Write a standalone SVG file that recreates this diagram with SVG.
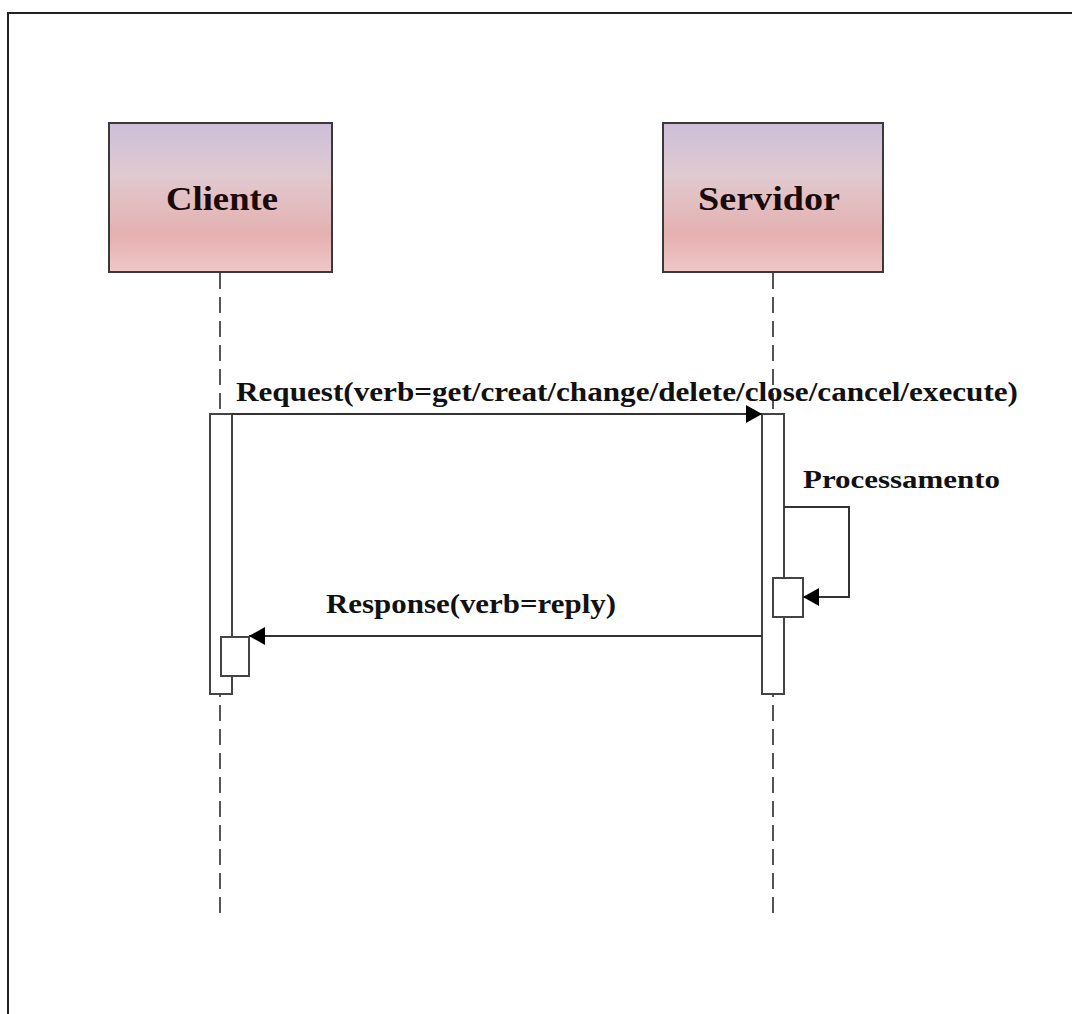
<svg xmlns="http://www.w3.org/2000/svg" width="1072" height="1014" viewBox="0 0 1072 1014">
  <defs>
    <linearGradient id="actorFill" x1="0" y1="0" x2="0" y2="1">
      <stop offset="0" stop-color="#cdbfd9"/>
      <stop offset="0.35" stop-color="#e0cad0"/>
      <stop offset="0.75" stop-color="#e5b0b0"/>
      <stop offset="1" stop-color="#efc8c8"/>
    </linearGradient>
    <marker id="arrowHead" markerWidth="16" markerHeight="18" refX="16" refY="9" orient="auto" markerUnits="userSpaceOnUse">
      <path d="M0,0 L16,9 L0,18 Z" fill="#000"/>
    </marker>
    <style>
      .actor { fill: url(#actorFill); stroke: #3a3a3a; stroke-width: 2; }
      .actor-label { font-family: "Liberation Serif", "Times New Roman", serif; font-weight: bold; font-size: 34px; fill: #1a0a0a; text-anchor: middle; }
      .lifeline { stroke: #555; stroke-width: 2; stroke-dasharray: 16 8; fill: none; }
      .activation { fill: #fff; stroke: #444; stroke-width: 2; }
      .msg { stroke: #333; stroke-width: 2; fill: none; marker-end: url(#arrowHead); }
      .msg-label { font-family: "Liberation Serif", "Times New Roman", serif; font-weight: bold; fill: #111; }
    </style>
  </defs>

  <rect width="1072" height="1014" fill="#fff"/>
  <!-- outer frame (open on the right and bottom) -->
  <path d="M8,1014 V13 H1072" fill="none" stroke="#222" stroke-width="2"/>

  <!-- lifelines -->
  <g id="lifelines">
    <line class="lifeline" x1="220" y1="273" x2="220" y2="914"/>
    <line class="lifeline" x1="773" y1="273" x2="773" y2="914"/>
  </g>

  <g id="cliente">
    <rect class="actor" x="109" y="123" width="223" height="149"/>
    <text class="actor-label" x="222" y="210" textLength="112" lengthAdjust="spacingAndGlyphs">Cliente</text>
  </g>

  <g id="servidor">
    <rect class="actor" x="663" y="123" width="220" height="149"/>
    <text class="actor-label" x="769" y="210" textLength="142" lengthAdjust="spacingAndGlyphs">Servidor</text>
  </g>

  <g id="cliente-activation">
    <rect class="activation" x="210" y="414" width="22" height="280"/>
    <rect class="activation" x="221" y="637" width="28" height="39"/>
  </g>

  <g id="servidor-activation">
    <rect class="activation" x="762" y="414" width="22" height="280"/>
    <rect class="activation" x="773" y="578" width="30" height="39"/>
  </g>

  <g id="connectors">
    <line class="msg" x1="232" y1="414" x2="762" y2="414"/>
    <polyline class="msg" points="784,507 849,507 849,597 803,597"/>
    <line class="msg" x1="762" y1="636" x2="249" y2="636"/>
  </g>

  <g id="labels">
    <text class="msg-label" x="236" y="401" font-size="27" textLength="782" lengthAdjust="spacingAndGlyphs">Request(verb=get/creat/change/delete/close/cancel/execute)</text>
    <text class="msg-label" x="803" y="488" font-size="25" textLength="197" lengthAdjust="spacingAndGlyphs">Processamento</text>
    <text class="msg-label" x="326" y="613" font-size="27" textLength="290" lengthAdjust="spacingAndGlyphs">Response(verb=reply)</text>
  </g>
</svg>
